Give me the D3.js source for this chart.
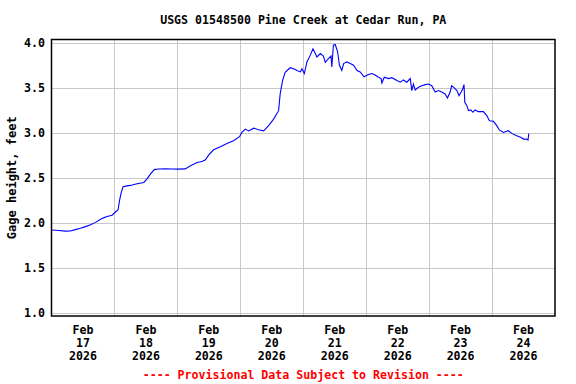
<!DOCTYPE html>
<html><head><meta charset="utf-8">
<script src="https://cdn.jsdelivr.net/npm/d3@7"></script>
<style>html,body{margin:0;padding:0;background:#fff;} svg{display:block;}</style>
</head><body>
<svg id="chart" width="576" height="384"></svg>
<script>
const title = "USGS 01548500 Pine Creek at Cedar Run, PA";
const yAxisTitle = "Gage height, feet";
const footer = "---- Provisional Data Subject to Revision ----";
const startTime = "2026-02-17T00:00:00";
const endTime = "2026-02-25T00:00:00";
const yTicks = [1.0, 1.5, 2.0, 2.5, 3.0, 3.5, 4.0];
const dayLabels = ["Feb 17 2026","Feb 18 2026","Feb 19 2026","Feb 20 2026","Feb 21 2026","Feb 22 2026","Feb 23 2026","Feb 24 2026"];
// hours since Feb 17 00:00
const hours = [0,2.7,5.3,7.2,9.1,11.0,13.0,14.9,16.8,18.7,19.8,21.2,23.1,24.4,25.4,25.9,26.6,27.3,28.8,30.1,32.6,35.2,36.5,37.7,39.2,40.9,43.4,46.1,48.4,51.0,53.0,55.5,57.4,58.7,59.9,61.8,64.4,66.9,69.4,71.7,72.6,73.9,75.2,77.1,79.0,80.9,82.8,84.7,86.6,87.2,88.1,89.1,91.0,93.0,93.6,94.9,95.5,96.4,97.4,98.7,99.7,100.6,101.2,102.5,103.7,104.4,105.6,106.6,106.9,107.5,108.2,109.1,109.8,110.7,111.4,112.6,113.9,115.2,116.5,117.7,119.2,120.9,122.2,123.4,124.7,125.7,126.0,126.9,128.5,129.8,131.7,133.0,134.2,135.5,136.8,137.4,138.0,138.7,139.9,141.2,142.5,143.7,145.0,146.3,147.5,148.8,150.1,151.0,152.0,152.6,153.5,154.6,155.4,156.2,156.8,157.3,157.6,158.4,159.0,159.9,160.7,161.5,162.8,164.7,166.0,167.0,168.5,169.8,170.8,172.3,174.2,175.5,177.4,178.9,180.2,181.2,181.7,182.0];
const gageHeight = [1.92,1.915,1.908,1.91,1.925,1.94,1.958,1.978,2.005,2.04,2.055,2.07,2.085,2.12,2.145,2.24,2.337,2.40,2.41,2.415,2.433,2.448,2.49,2.54,2.59,2.597,2.598,2.597,2.596,2.598,2.633,2.67,2.68,2.70,2.75,2.81,2.844,2.88,2.91,2.955,3.003,3.04,3.02,3.05,3.033,3.02,3.078,3.15,3.244,3.43,3.578,3.67,3.72,3.70,3.69,3.674,3.71,3.656,3.785,3.86,3.93,3.878,3.84,3.878,3.85,3.78,3.82,3.85,3.73,3.97,3.978,3.897,3.748,3.69,3.767,3.785,3.767,3.748,3.69,3.674,3.62,3.644,3.656,3.64,3.615,3.60,3.55,3.615,3.60,3.61,3.578,3.56,3.585,3.56,3.60,3.467,3.54,3.474,3.504,3.52,3.533,3.54,3.52,3.45,3.467,3.45,3.43,3.385,3.45,3.52,3.50,3.467,3.41,3.45,3.485,3.533,3.337,3.30,3.244,3.252,3.226,3.252,3.233,3.233,3.19,3.133,3.126,3.078,3.03,3.003,3.022,2.992,2.967,2.948,2.926,2.93,2.918,2.99];

const t0 = new Date(startTime), t1 = new Date(endTime);
const data = hours.map((h,i)=>({t:new Date(t0.getTime()+h*3600000), v:gageHeight[i]}));

const svg = d3.select("#chart");
const L=51.5, R=555, T=39.5, B=316;
const x = d3.scaleTime().domain([t0,t1]).range([L,R]);
const y = d3.scaleLinear().domain([1,4]).range([313,42.5]);
const font = "'DejaVu Sans Mono', monospace";
const fs = 11.6;

const days = d3.timeDay.range(t0, t1);
// gridlines
svg.append("g").selectAll("line").data(yTicks).join("line")
  .attr("x1",L).attr("x2",R).attr("y1",d=>Math.round(y(d))+0.5).attr("y2",d=>Math.round(y(d))+0.5)
  .attr("stroke","#c8c8c8").attr("stroke-width",1);
svg.append("g").selectAll("line").data(days.slice(1)).join("line")
  .attr("y1",T).attr("y2",B).attr("x1",d=>Math.round(x(d))+0.5).attr("x2",d=>Math.round(x(d))+0.5)
  .attr("stroke","#c8c8c8").attr("stroke-width",1);

// line
svg.append("path").datum(data)
  .attr("d", d3.line().x(d=>x(d.t)).y(d=>y(d.v)))
  .attr("fill","none").attr("stroke","#0000ff").attr("stroke-width",1.1);

// frame
svg.append("rect").attr("x",L).attr("y",T).attr("width",R-L).attr("height",B-T)
  .attr("fill","none").attr("stroke","#000").attr("stroke-width",1.5);

// y tick labels
svg.append("g").selectAll("text").data(yTicks).join("text")
  .attr("x",45).attr("y",d=>y(d)+4).attr("text-anchor","end")
  .attr("font-family",font).attr("font-weight","bold").attr("font-size",fs)
  .text(d=>d3.format(".1f")(d));

// x labels
const xl = svg.append("g").selectAll("text").data(days).join("text")
  .attr("text-anchor","middle").attr("font-family",font).attr("font-weight","bold").attr("font-size",fs)
  .attr("y",334);
xl.each(function(d,i){
  const parts = dayLabels[i].split(" ");
  const cx = x(d3.timeHour.offset(d,12));
  d3.select(this).selectAll("tspan").data(parts).join("tspan")
    .attr("x",cx).attr("dy",(p,j)=>j===0?0:13).text(p=>p);
});

// title
svg.append("text").attr("x",(L+R)/2).attr("y",24).attr("text-anchor","middle")
  .attr("font-family",font).attr("font-weight","bold").attr("font-size",fs).text(title);
// y axis title
svg.append("text").attr("transform",`translate(16,${(T+B)/2}) rotate(-90)`).attr("text-anchor","middle")
  .attr("font-family",font).attr("font-weight","bold").attr("font-size",12).text(yAxisTitle);
// footer
svg.append("text").attr("x",(L+R)/2).attr("y",379).attr("text-anchor","middle")
  .attr("font-family",font).attr("font-weight","bold").attr("font-size",fs).attr("fill","#ff0000").text(footer);
</script>
</body></html>
